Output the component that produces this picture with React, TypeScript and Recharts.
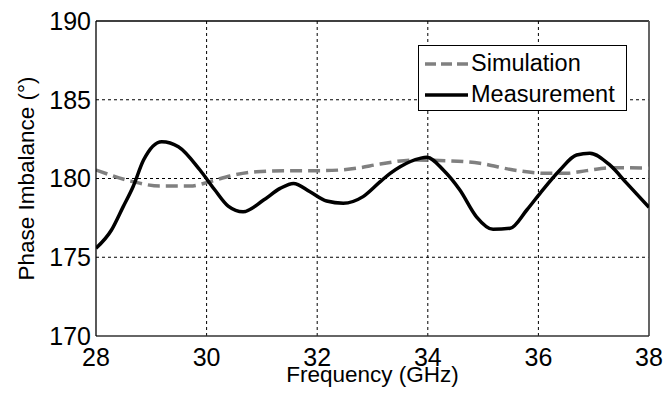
import React from "react";
import {
  LineChart,
  Line,
  XAxis,
  YAxis,
  CartesianGrid,
  ReferenceLine,
} from "recharts";

const measFreq = [28.0, 28.28, 28.49, 28.67, 28.86, 29.19, 29.49, 29.88, 30.15, 30.39, 30.66, 31.03, 31.33, 31.57, 31.87, 32.17, 32.47, 32.83, 33.14, 33.32, 33.5, 33.86, 33.98, 34.28, 34.58, 34.88, 35.18, 35.49, 35.79, 36.03, 36.39, 36.69, 36.93, 37.29, 37.6, 38.0];
const measVals = [175.57, 176.73, 178.2, 179.48, 181.17, 182.34, 182.02, 180.54, 179.27, 178.25, 177.89, 178.63, 179.37, 179.69, 179.16, 178.57, 178.43, 178.85, 179.8, 180.33, 180.75, 181.28, 181.35, 180.54, 179.27, 177.57, 176.77, 176.84, 178.0, 179.06, 180.54, 181.49, 181.6, 180.86, 179.69, 178.17];

const simFreq = [28.0, 28.67, 29.16, 29.7, 30.06, 30.42, 30.9, 31.51, 32.11, 32.71, 33.14, 33.74, 34.34, 34.94, 35.55, 36.15, 36.51, 36.87, 37.35, 38.0];
const simVals = [180.54, 179.8, 179.52, 179.52, 179.8, 180.16, 180.43, 180.5, 180.5, 180.65, 180.92, 181.17, 181.13, 180.97, 180.54, 180.33, 180.33, 180.5, 180.69, 180.65];

const xTicks = [28, 30, 32, 34, 36, 38];
const yTicks = [170, 175, 180, 185, 190];

const seriesNames = { sim: "Simulation", meas: "Measurement" };
const xTitle = "Frequency (GHz)";
const yTitle = "Phase Imbalance (°)";

const measData = measFreq.map((f, i) => ({ f, v: measVals[i] }));
const simData = simFreq.map((f, i) => ({ f, v: simVals[i] }));

const FONT = "'Liberation Sans', Arial, sans-serif";

const LegendBox = () => (
  <div
    style={{
      position: "absolute",
      left: 418,
      top: 45,
      border: "1px solid #000",
      background: "#fff",
      width: 209,
      height: 66,
      boxSizing: "border-box",
      fontFamily: FONT,
      fontSize: 23.5,
      color: "#000",
      padding: "2px 0 0 6px",
    }}
  >
    <div style={{ display: "flex", alignItems: "center", height: 31 }}>
      <svg width={44} height={10} style={{ marginRight: 2 }}>
        <line x1={0} y1={5} x2={43} y2={5} stroke="#808080" strokeWidth={3.5} strokeDasharray="11 5" />
      </svg>
      <span>{seriesNames.sim}</span>
    </div>
    <div style={{ display: "flex", alignItems: "center", height: 31 }}>
      <svg width={44} height={10} style={{ marginRight: 2 }}>
        <line x1={0} y1={5} x2={43} y2={5} stroke="#000" strokeWidth={3.5} />
      </svg>
      <span>{seriesNames.meas}</span>
    </div>
  </div>
);

export default function App() {
  return (
    <div style={{ position: "absolute", left: 0, top: 0, width: 664, height: 398, background: "#fff" }}>
      <LineChart
        width={664}
        height={398}
        margin={{ top: 21, right: 15, bottom: 32, left: 36 }}
      >
        <CartesianGrid
          stroke="#000"
          strokeDasharray="3 3"
          strokeWidth={1}
          horizontalValues={[175, 180, 185]}
          verticalValues={[30, 32, 34, 36]}
        />
        <XAxis
          dataKey="f"
          type="number"
          domain={[28, 38]}
          ticks={xTicks}
          allowDataOverflow
          height={30}
          tickLine={false}
          tickSize={0}
          tickMargin={12}
          axisLine={{ stroke: "#333", strokeWidth: 1.3 }}
          tick={{ fill: "#000", fontSize: 25, fontFamily: FONT }}
          label={{
            content: (p: any) => {
              const vb = p.viewBox;
              return (
                <text
                  x={vb.x + vb.width / 2}
                  y={382}
                  textAnchor="middle"
                  fontSize={22.5}
                  fontFamily={FONT}
                  fill="#000"
                >
                  {xTitle}
                </text>
              );
            },
          }}
        />
        <YAxis
          type="number"
          domain={[170, 190]}
          ticks={yTicks}
          allowDataOverflow
          width={60}
          tickLine={false}
          tickSize={0}
          tickMargin={5}
          axisLine={{ stroke: "#000", strokeWidth: 1.3 }}
          tick={{ fill: "#000", fontSize: 25, fontFamily: FONT }}
          label={{
            content: (p: any) => {
              const vb = p.viewBox;
              const cy = vb.y + vb.height / 2;
              return (
                <text
                  x={26}
                  y={cy}
                  transform={`rotate(-90 26 ${cy})`}
                  textAnchor="middle"
                  dominantBaseline="central"
                  fontSize={22.5}
                  fontFamily={FONT}
                  fill="#000"
                >
                  {yTitle}
                </text>
              );
            },
          }}
        />
        <ReferenceLine y={190} stroke="#000" strokeWidth={1.3} />
        <ReferenceLine x={38} stroke="#555" strokeWidth={1.8} />
        <Line
          data={simData}
          dataKey="v"
          type="monotone"
          stroke="#808080"
          strokeWidth={3.5}
          strokeDasharray="12 6"
          dot={false}
          isAnimationActive={false}
          name={seriesNames.sim}
        />
        <Line
          data={measData}
          dataKey="v"
          type="monotone"
          stroke="#000"
          strokeWidth={3.5}
          dot={false}
          isAnimationActive={false}
          name={seriesNames.meas}
        />
      </LineChart>
      <LegendBox />
    </div>
  );
}
